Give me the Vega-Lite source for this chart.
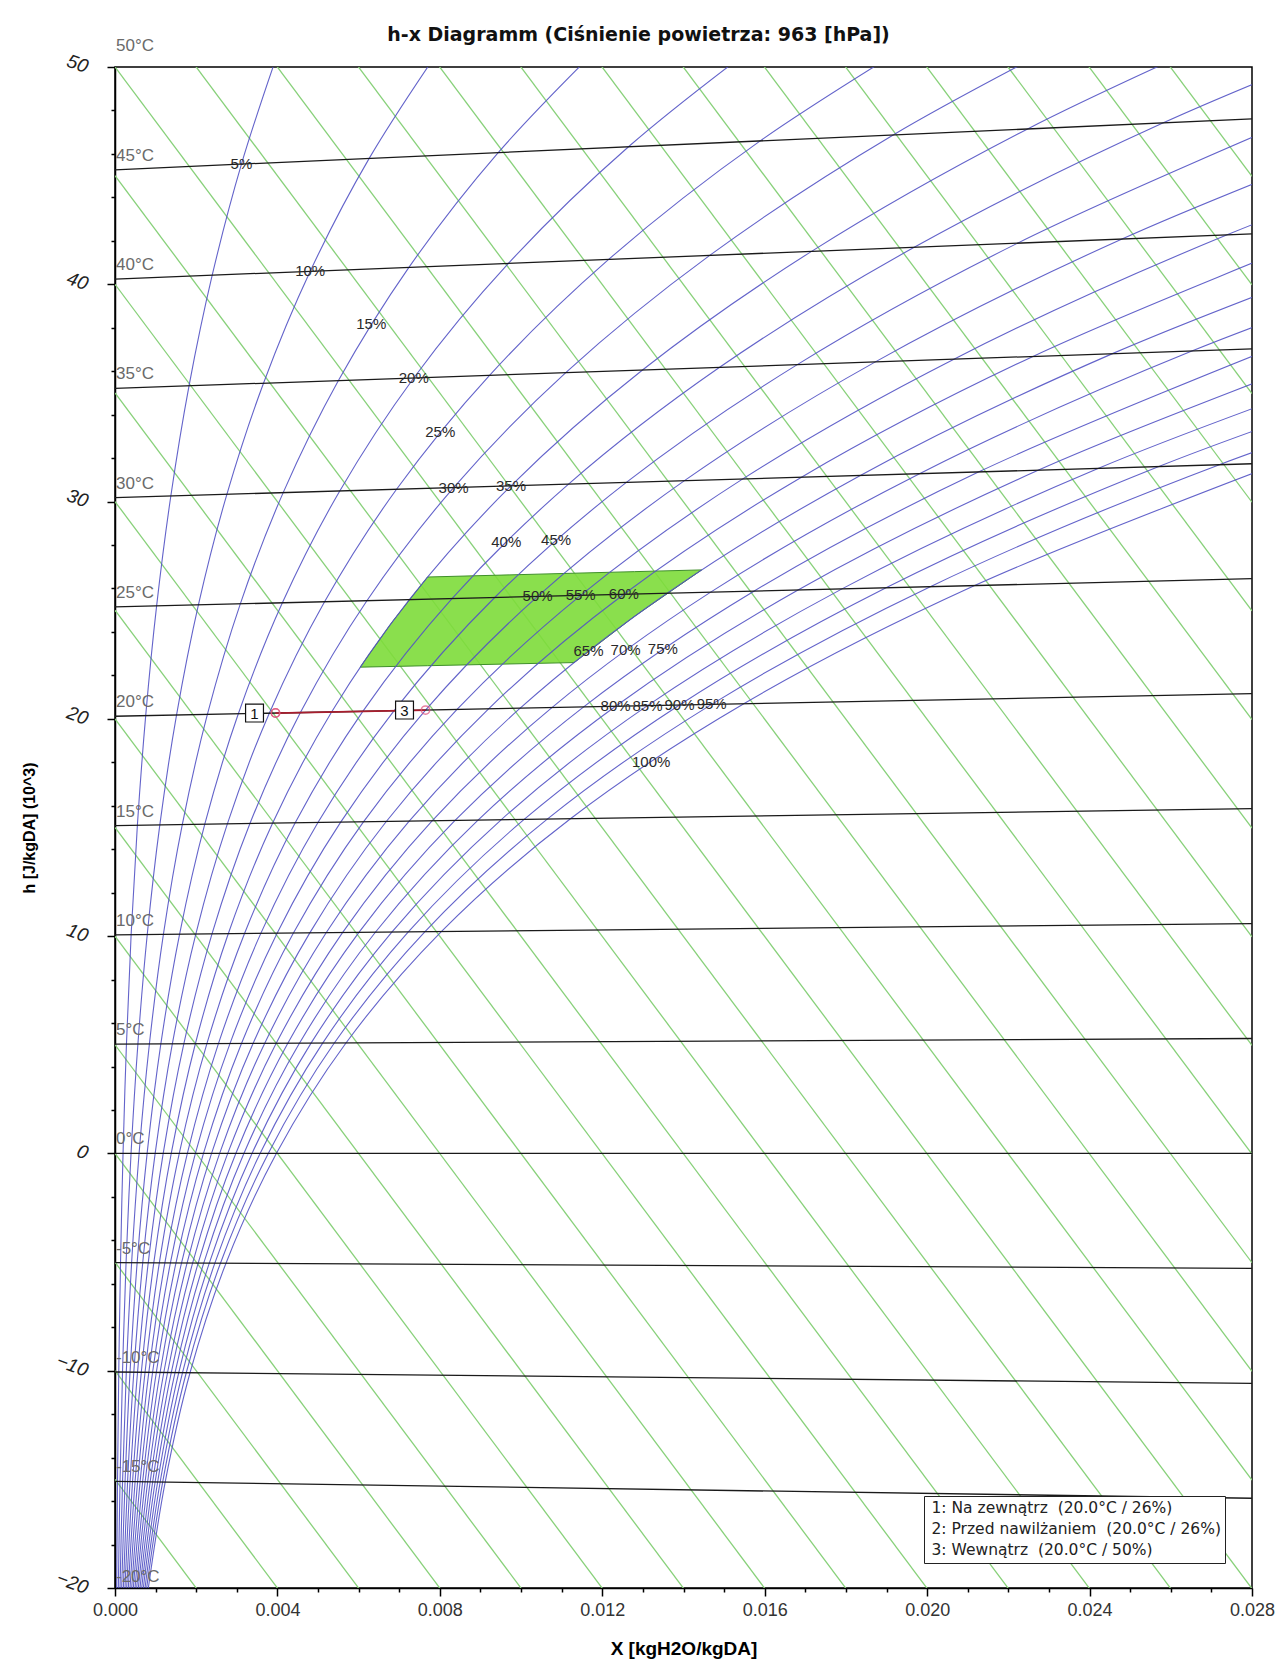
{
"$schema": "https://vega.github.io/schema/vega-lite/v6.json",
"width": 1137, "height": 1521,
"autosize": {"type": "none"},
"padding": {"left": 115, "top": 67, "right": 27, "bottom": 72},
"background": "white",
"config": {"view": {"stroke": "#000", "strokeWidth": 1.5}, "font": "Liberation Sans"},
"title": {"text": "h-x Diagramm (Ciśnienie powietrza: 963 [hPa])", "font": "DejaVu Sans", "fontSize": 19, "fontWeight": "bold", "color": "#111", "anchor": "middle", "dx": -45, "offset": 22, "dy": 30},
"datasets": {
"enth": [
{"h":-15,"x":0,"y":-15},{"h":-15,"x":0.028,"y":-85.03},
{"h":-10,"x":0,"y":-10},{"h":-10,"x":0.028,"y":-80.03},
{"h":-5,"x":0,"y":-5},{"h":-5,"x":0.028,"y":-75.03},
{"h":0,"x":0,"y":0},{"h":0,"x":0.028,"y":-70.03},
{"h":5,"x":0,"y":5},{"h":5,"x":0.028,"y":-65.03},
{"h":10,"x":0,"y":10},{"h":10,"x":0.028,"y":-60.03},
{"h":15,"x":0,"y":15},{"h":15,"x":0.028,"y":-55.03},
{"h":20,"x":0,"y":20},{"h":20,"x":0.028,"y":-50.03},
{"h":25,"x":0,"y":25},{"h":25,"x":0.028,"y":-45.03},
{"h":30,"x":0,"y":30},{"h":30,"x":0.028,"y":-40.03},
{"h":35,"x":0,"y":35},{"h":35,"x":0.028,"y":-35.03},
{"h":40,"x":0,"y":40},{"h":40,"x":0.028,"y":-30.03},
{"h":45,"x":0,"y":45},{"h":45,"x":0.028,"y":-25.03},
{"h":50,"x":0,"y":50},{"h":50,"x":0.028,"y":-20.03},
{"h":55,"x":0,"y":55},{"h":55,"x":0.028,"y":-15.03},
{"h":60,"x":0,"y":60},{"h":60,"x":0.028,"y":-10.03},
{"h":65,"x":0,"y":65},{"h":65,"x":0.028,"y":-5.03},
{"h":70,"x":0,"y":70},{"h":70,"x":0.028,"y":-0.03},
{"h":75,"x":0,"y":75},{"h":75,"x":0.028,"y":4.97},
{"h":80,"x":0,"y":80},{"h":80,"x":0.028,"y":9.97},
{"h":85,"x":0,"y":85},{"h":85,"x":0.028,"y":14.97},
{"h":90,"x":0,"y":90},{"h":90,"x":0.028,"y":19.97},
{"h":95,"x":0,"y":95},{"h":95,"x":0.028,"y":24.97},
{"h":100,"x":0,"y":100},{"h":100,"x":0.028,"y":29.97},
{"h":105,"x":0,"y":105},{"h":105,"x":0.028,"y":34.97},
{"h":110,"x":0,"y":110},{"h":110,"x":0.028,"y":39.97},
{"h":115,"x":0,"y":115},{"h":115,"x":0.028,"y":44.97}
],
"iso": [
{"t":-20,"x":0,"y":-20.12,"lab":"-20°C"},{"t":-20,"x":0.028,"y":-21.16},
{"t":-15,"x":0,"y":-15.09,"lab":"-15°C"},{"t":-15,"x":0.028,"y":-15.87},
{"t":-10,"x":0,"y":-10.06,"lab":"-10°C"},{"t":-10,"x":0.028,"y":-10.58},
{"t":-5,"x":0,"y":-5.03,"lab":"-5°C"},{"t":-5,"x":0.028,"y":-5.29},
{"t":0,"x":0,"y":0,"lab":"0°C"},{"t":0,"x":0.028,"y":0},
{"t":5,"x":0,"y":5.03,"lab":"5°C"},{"t":5,"x":0.028,"y":5.29},
{"t":10,"x":0,"y":10.06,"lab":"10°C"},{"t":10,"x":0.028,"y":10.58},
{"t":15,"x":0,"y":15.09,"lab":"15°C"},{"t":15,"x":0.028,"y":15.87},
{"t":20,"x":0,"y":20.12,"lab":"20°C"},{"t":20,"x":0.028,"y":21.16},
{"t":25,"x":0,"y":25.15,"lab":"25°C"},{"t":25,"x":0.028,"y":26.45},
{"t":30,"x":0,"y":30.18,"lab":"30°C"},{"t":30,"x":0.028,"y":31.74},
{"t":35,"x":0,"y":35.21,"lab":"35°C"},{"t":35,"x":0.028,"y":37.03},
{"t":40,"x":0,"y":40.24,"lab":"40°C"},{"t":40,"x":0.028,"y":42.32},
{"t":45,"x":0,"y":45.27,"lab":"45°C"},{"t":45,"x":0.028,"y":47.61},
{"t":50,"x":0,"y":50.3,"lab":"50°C"},{"t":50,"x":0.028,"y":52.9}
],
"zone": [
{"x":0.006037,"y":22.38,"y2":22.38},
{"x":0.006822,"y":22.411,"y2":24.449},
{"x":0.007697,"y":22.446,"y2":26.528},
{"x":0.011306,"y":22.59,"y2":26.703},
{"x":0.01279,"y":24.715,"y2":26.775},
{"x":0.014447,"y":26.855,"y2":26.855}
],
"rhlab": [
{"lab":"5%","x":0.003114,"y":45.531},
{"lab":"10%","x":0.004807,"y":40.598},
{"lab":"15%","x":0.00631,"y":38.17},
{"lab":"20%","x":0.007357,"y":35.689},
{"lab":"25%","x":0.00801,"y":33.18},
{"lab":"30%","x":0.008339,"y":30.645},
{"lab":"35%","x":0.009751,"y":30.724},
{"lab":"40%","x":0.009636,"y":28.16},
{"lab":"45%","x":0.010863,"y":28.22},
{"lab":"50%","x":0.010408,"y":25.634},
{"lab":"55%","x":0.011468,"y":25.683},
{"lab":"60%","x":0.012531,"y":25.733},
{"lab":"65%","x":0.01166,"y":23.12},
{"lab":"70%","x":0.012573,"y":23.16},
{"lab":"75%","x":0.013491,"y":23.2},
{"lab":"80%","x":0.012327,"y":20.579},
{"lab":"85%","x":0.013113,"y":20.608},
{"lab":"90%","x":0.013902,"y":20.637},
{"lab":"95%","x":0.014693,"y":20.667},
{"lab":"100%","x":0.013205,"y":18.035}
],
"pts": [
{"n":"2","x":0.003953,"y":20.267,"leg":"2: Przed nawilżaniem\u00a0 (20.0°C / 26%)"},
{"n":"1","x":0.003953,"y":20.267,"leg":"1: Na zewnątrz\u00a0 (20.0°C / 26%)"},
{"n":"3","x":0.007647,"y":20.404,"leg":"3: Wewnątrz\u00a0 (20.0°C / 50%)"}
],
"rh": [
{"p":5,"t":-20,"x":0.0000406,"y":-20.13},{"p":5,"t":-15,"x":0.0000619,"y":-15.1},{"p":5,"t":-10,"x":0.0000926,"y":-10.07},{"p":5,"t":-5,"x":0.000136,"y":-5.04},{"p":5,"t":0,"x":0.000198,"y":0},{"p":5,"t":5,"x":0.000282,"y":5.033},{"p":5,"t":10,"x":0.000397,"y":10.067},{"p":5,"t":15,"x":0.000551,"y":15.105},{"p":5,"t":20,"x":0.000756,"y":20.148},{"p":5,"t":25,"x":0.001025,"y":25.198},{"p":5,"t":30,"x":0.001375,"y":30.257},{"p":5,"t":35,"x":0.001823,"y":35.329},{"p":5,"t":40,"x":0.002394,"y":40.418},{"p":5,"t":45,"x":0.003114,"y":45.531},{"p":5,"t":50,"x":0.004015,"y":50.673},
{"p":10,"t":-20,"x":0.000081,"y":-20.13},{"p":10,"t":-15,"x":0.000124,"y":-15.1},{"p":10,"t":-10,"x":0.000185,"y":-10.07},{"p":10,"t":-5,"x":0.000272,"y":-5.04},{"p":10,"t":0,"x":0.000395,"y":0},{"p":10,"t":5,"x":0.000564,"y":5.035},{"p":10,"t":10,"x":0.000794,"y":10.075},{"p":10,"t":15,"x":0.001104,"y":15.121},{"p":10,"t":20,"x":0.001515,"y":20.176},{"p":10,"t":25,"x":0.002054,"y":25.246},{"p":10,"t":30,"x":0.002755,"y":30.334},{"p":10,"t":35,"x":0.003657,"y":35.448},{"p":10,"t":40,"x":0.004807,"y":40.598},{"p":10,"t":45,"x":0.00626,"y":45.794},{"p":10,"t":50,"x":0.008082,"y":51.052},
{"p":15,"t":-20,"x":0.000122,"y":-20.13},{"p":15,"t":-15,"x":0.000186,"y":-15.1},{"p":15,"t":-10,"x":0.000278,"y":-10.07},{"p":15,"t":-5,"x":0.000409,"y":-5.04},{"p":15,"t":0,"x":0.000593,"y":0},{"p":15,"t":5,"x":0.000847,"y":5.038},{"p":15,"t":10,"x":0.001192,"y":10.082},{"p":15,"t":15,"x":0.001657,"y":15.136},{"p":15,"t":20,"x":0.002275,"y":20.205},{"p":15,"t":25,"x":0.003086,"y":25.294},{"p":15,"t":30,"x":0.004142,"y":30.411},{"p":15,"t":35,"x":0.005502,"y":35.568},{"p":15,"t":40,"x":0.007238,"y":40.778},{"p":15,"t":45,"x":0.009437,"y":46.06},{"p":15,"t":50,"x":0.012202,"y":51.435},
{"p":20,"t":-20,"x":0.000162,"y":-20.13},{"p":20,"t":-15,"x":0.000248,"y":-15.1},{"p":20,"t":-10,"x":0.00037,"y":-10.07},{"p":20,"t":-5,"x":0.000545,"y":-5.04},{"p":20,"t":0,"x":0.000791,"y":0},{"p":20,"t":5,"x":0.001129,"y":5.041},{"p":20,"t":10,"x":0.001591,"y":10.09},{"p":20,"t":15,"x":0.002211,"y":15.152},{"p":20,"t":20,"x":0.003037,"y":20.233},{"p":20,"t":25,"x":0.004122,"y":25.342},{"p":20,"t":30,"x":0.005535,"y":30.489},{"p":20,"t":35,"x":0.007357,"y":35.689},{"p":20,"t":40,"x":0.009688,"y":40.961},{"p":20,"t":45,"x":0.012646,"y":46.328},{"p":20,"t":50,"x":0.016376,"y":51.823},
{"p":25,"t":-20,"x":0.000203,"y":-20.13},{"p":25,"t":-15,"x":0.00031,"y":-15.1},{"p":25,"t":-10,"x":0.000463,"y":-10.07},{"p":25,"t":-5,"x":0.000682,"y":-5.04},{"p":25,"t":0,"x":0.000989,"y":0},{"p":25,"t":5,"x":0.001412,"y":5.043},{"p":25,"t":10,"x":0.00199,"y":10.097},{"p":25,"t":15,"x":0.002767,"y":15.167},{"p":25,"t":20,"x":0.0038,"y":20.261},{"p":25,"t":25,"x":0.005161,"y":25.39},{"p":25,"t":30,"x":0.006934,"y":30.567},{"p":25,"t":35,"x":0.009224,"y":35.81},{"p":25,"t":40,"x":0.012157,"y":41.144},{"p":25,"t":45,"x":0.015889,"y":46.6},{"p":25,"t":50,"x":0.020606,"y":52.216},
{"p":30,"t":-20,"x":0.000243,"y":-20.13},{"p":30,"t":-15,"x":0.000371,"y":-15.1},{"p":30,"t":-10,"x":0.000555,"y":-10.07},{"p":30,"t":-5,"x":0.000818,"y":-5.04},{"p":30,"t":0,"x":0.001187,"y":0},{"p":30,"t":5,"x":0.001695,"y":5.046},{"p":30,"t":10,"x":0.002389,"y":10.104},{"p":30,"t":15,"x":0.003323,"y":15.183},{"p":30,"t":20,"x":0.004566,"y":20.29},{"p":30,"t":25,"x":0.006203,"y":25.438},{"p":30,"t":30,"x":0.008339,"y":30.645},{"p":30,"t":35,"x":0.011101,"y":35.933},{"p":30,"t":40,"x":0.014646,"y":41.33},{"p":30,"t":45,"x":0.019164,"y":46.874},{"p":30,"t":50,"x":0.024892,"y":52.615},
{"p":35,"t":-20,"x":0.000284,"y":-20.13},{"p":35,"t":-15,"x":0.000433,"y":-15.1},{"p":35,"t":-10,"x":0.000648,"y":-10.07},{"p":35,"t":-5,"x":0.000955,"y":-5.04},{"p":35,"t":0,"x":0.001385,"y":0},{"p":35,"t":5,"x":0.001979,"y":5.048},{"p":35,"t":10,"x":0.002789,"y":10.112},{"p":35,"t":15,"x":0.00388,"y":15.198},{"p":35,"t":20,"x":0.005334,"y":20.318},{"p":35,"t":25,"x":0.007249,"y":25.487},{"p":35,"t":30,"x":0.009751,"y":30.724},{"p":35,"t":35,"x":0.01299,"y":36.056},{"p":35,"t":40,"x":0.017154,"y":41.516},{"p":35,"t":45,"x":0.022474,"y":47.151},{"p":35,"t":50,"x":0.029236,"y":53.019},
{"p":40,"t":-20,"x":0.000324,"y":-20.13},{"p":40,"t":-15,"x":0.000495,"y":-15.1},{"p":40,"t":-10,"x":0.00074,"y":-10.07},{"p":40,"t":-5,"x":0.001092,"y":-5.04},{"p":40,"t":0,"x":0.001583,"y":0},{"p":40,"t":5,"x":0.002263,"y":5.051},{"p":40,"t":10,"x":0.00319,"y":10.119},{"p":40,"t":15,"x":0.004438,"y":15.214},{"p":40,"t":20,"x":0.006103,"y":20.347},{"p":40,"t":25,"x":0.008299,"y":25.536},{"p":40,"t":30,"x":0.011169,"y":30.803},{"p":40,"t":35,"x":0.01489,"y":36.179},{"p":40,"t":40,"x":0.019682,"y":41.704},{"p":40,"t":45,"x":0.025817,"y":47.431},{"p":40,"t":50,"x":0.033638,"y":53.428},
{"p":45,"t":-20,"x":0.000365,"y":-20.13},{"p":45,"t":-15,"x":0.000557,"y":-15.1},{"p":45,"t":-10,"x":0.000833,"y":-10.07},{"p":45,"t":-5,"x":0.001228,"y":-5.04},{"p":45,"t":0,"x":0.001782,"y":0},{"p":45,"t":5,"x":0.002547,"y":5.054},{"p":45,"t":10,"x":0.003591,"y":10.127},{"p":45,"t":15,"x":0.004998,"y":15.229},{"p":45,"t":20,"x":0.006874,"y":20.376},{"p":45,"t":25,"x":0.009351,"y":25.585},{"p":45,"t":30,"x":0.012593,"y":30.883},{"p":45,"t":35,"x":0.016802,"y":36.304},{"p":45,"t":40,"x":0.02223,"y":41.894},{"p":45,"t":45,"x":0.029196,"y":47.714},
{"p":50,"t":-20,"x":0.000406,"y":-20.13},{"p":50,"t":-15,"x":0.000619,"y":-15.1},{"p":50,"t":-10,"x":0.000926,"y":-10.07},{"p":50,"t":-5,"x":0.001365,"y":-5.04},{"p":50,"t":0,"x":0.00198,"y":0},{"p":50,"t":5,"x":0.002831,"y":5.056},{"p":50,"t":10,"x":0.003992,"y":10.134},{"p":50,"t":15,"x":0.005558,"y":15.245},{"p":50,"t":20,"x":0.007647,"y":20.404},{"p":50,"t":25,"x":0.010408,"y":25.634},{"p":50,"t":30,"x":0.014024,"y":30.963},{"p":50,"t":35,"x":0.018725,"y":36.429},{"p":50,"t":40,"x":0.024799,"y":42.085},{"p":50,"t":45,"x":0.03261,"y":48.0},
{"p":55,"t":-20,"x":0.000446,"y":-20.13},{"p":55,"t":-15,"x":0.000681,"y":-15.1},{"p":55,"t":-10,"x":0.001018,"y":-10.07},{"p":55,"t":-5,"x":0.001502,"y":-5.04},{"p":55,"t":0,"x":0.002179,"y":0},{"p":55,"t":5,"x":0.003115,"y":5.059},{"p":55,"t":10,"x":0.004394,"y":10.142},{"p":55,"t":15,"x":0.006119,"y":15.261},{"p":55,"t":20,"x":0.008423,"y":20.433},{"p":55,"t":25,"x":0.011468,"y":25.683},{"p":55,"t":30,"x":0.015461,"y":31.043},{"p":55,"t":35,"x":0.020659,"y":36.555},{"p":55,"t":40,"x":0.027388,"y":42.278},{"p":55,"t":45,"x":0.03606,"y":48.288},
{"p":60,"t":-20,"x":0.000487,"y":-20.13},{"p":60,"t":-15,"x":0.000743,"y":-15.1},{"p":60,"t":-10,"x":0.001111,"y":-10.07},{"p":60,"t":-5,"x":0.001639,"y":-5.04},{"p":60,"t":0,"x":0.002378,"y":0},{"p":60,"t":5,"x":0.0034,"y":5.062},{"p":60,"t":10,"x":0.004797,"y":10.149},{"p":60,"t":15,"x":0.006681,"y":15.276},{"p":60,"t":20,"x":0.0092,"y":20.462},{"p":60,"t":25,"x":0.012531,"y":25.733},{"p":60,"t":30,"x":0.016905,"y":31.123},{"p":60,"t":35,"x":0.022606,"y":36.682},{"p":60,"t":40,"x":0.029998,"y":42.472},
{"p":65,"t":-20,"x":0.000527,"y":-20.13},{"p":65,"t":-15,"x":0.000805,"y":-15.1},{"p":65,"t":-10,"x":0.001203,"y":-10.07},{"p":65,"t":-5,"x":0.001776,"y":-5.04},{"p":65,"t":0,"x":0.002577,"y":0},{"p":65,"t":5,"x":0.003685,"y":5.064},{"p":65,"t":10,"x":0.0052,"y":10.157},{"p":65,"t":15,"x":0.007245,"y":15.292},{"p":65,"t":20,"x":0.009978,"y":20.491},{"p":65,"t":25,"x":0.013598,"y":25.782},{"p":65,"t":30,"x":0.018355,"y":31.204},{"p":65,"t":35,"x":0.024564,"y":36.809},{"p":65,"t":40,"x":0.032629,"y":42.668},
{"p":70,"t":-20,"x":0.000568,"y":-20.13},{"p":70,"t":-15,"x":0.000867,"y":-15.1},{"p":70,"t":-10,"x":0.001296,"y":-10.07},{"p":70,"t":-5,"x":0.001913,"y":-5.04},{"p":70,"t":0,"x":0.002776,"y":0},{"p":70,"t":5,"x":0.00397,"y":5.067},{"p":70,"t":10,"x":0.005603,"y":10.164},{"p":70,"t":15,"x":0.007809,"y":15.308},{"p":70,"t":20,"x":0.010759,"y":20.52},{"p":70,"t":25,"x":0.014669,"y":25.832},{"p":70,"t":30,"x":0.019812,"y":31.285},{"p":70,"t":35,"x":0.026534,"y":36.937},{"p":70,"t":40,"x":0.035281,"y":42.865},
{"p":75,"t":-20,"x":0.000608,"y":-20.13},{"p":75,"t":-15,"x":0.000929,"y":-15.1},{"p":75,"t":-10,"x":0.001388,"y":-10.07},{"p":75,"t":-5,"x":0.00205,"y":-5.04},{"p":75,"t":0,"x":0.002975,"y":0},{"p":75,"t":5,"x":0.004256,"y":5.07},{"p":75,"t":10,"x":0.006007,"y":10.172},{"p":75,"t":15,"x":0.008374,"y":15.324},{"p":75,"t":20,"x":0.011542,"y":20.549},{"p":75,"t":25,"x":0.015743,"y":25.882},{"p":75,"t":30,"x":0.021275,"y":31.367},{"p":75,"t":35,"x":0.028516,"y":37.066},
{"p":80,"t":-20,"x":0.000649,"y":-20.13},{"p":80,"t":-15,"x":0.00099,"y":-15.1},{"p":80,"t":-10,"x":0.001481,"y":-10.07},{"p":80,"t":-5,"x":0.002187,"y":-5.04},{"p":80,"t":0,"x":0.003174,"y":0},{"p":80,"t":5,"x":0.004542,"y":5.072},{"p":80,"t":10,"x":0.006412,"y":10.179},{"p":80,"t":15,"x":0.00894,"y":15.339},{"p":80,"t":20,"x":0.012327,"y":20.579},{"p":80,"t":25,"x":0.016821,"y":25.932},{"p":80,"t":30,"x":0.022746,"y":31.449},{"p":80,"t":35,"x":0.030511,"y":37.196},
{"p":85,"t":-20,"x":0.000689,"y":-20.13},{"p":85,"t":-15,"x":0.001052,"y":-15.1},{"p":85,"t":-10,"x":0.001573,"y":-10.07},{"p":85,"t":-5,"x":0.002324,"y":-5.04},{"p":85,"t":0,"x":0.003374,"y":0},{"p":85,"t":5,"x":0.004828,"y":5.075},{"p":85,"t":10,"x":0.006817,"y":10.187},{"p":85,"t":15,"x":0.009508,"y":15.355},{"p":85,"t":20,"x":0.013113,"y":20.608},{"p":85,"t":25,"x":0.017903,"y":25.982},{"p":85,"t":30,"x":0.024223,"y":31.532},{"p":85,"t":35,"x":0.032517,"y":37.327},
{"p":90,"t":-20,"x":0.00073,"y":-20.13},{"p":90,"t":-15,"x":0.001114,"y":-15.1},{"p":90,"t":-10,"x":0.001666,"y":-10.07},{"p":90,"t":-5,"x":0.002461,"y":-5.04},{"p":90,"t":0,"x":0.003573,"y":0},{"p":90,"t":5,"x":0.005114,"y":5.078},{"p":90,"t":10,"x":0.007223,"y":10.194},{"p":90,"t":15,"x":0.010076,"y":15.371},{"p":90,"t":20,"x":0.013902,"y":20.637},{"p":90,"t":25,"x":0.018988,"y":26.033},{"p":90,"t":30,"x":0.025706,"y":31.614},{"p":90,"t":35,"x":0.034536,"y":37.458},
{"p":95,"t":-20,"x":0.00077,"y":-20.13},{"p":95,"t":-15,"x":0.001176,"y":-15.1},{"p":95,"t":-10,"x":0.001758,"y":-10.07},{"p":95,"t":-5,"x":0.002599,"y":-5.04},{"p":95,"t":0,"x":0.003774,"y":0},{"p":95,"t":5,"x":0.005401,"y":5.08},{"p":95,"t":10,"x":0.007629,"y":10.202},{"p":95,"t":15,"x":0.010645,"y":15.387},{"p":95,"t":20,"x":0.014693,"y":20.667},{"p":95,"t":25,"x":0.020077,"y":26.084},{"p":95,"t":30,"x":0.027197,"y":31.698},{"p":95,"t":35,"x":0.036568,"y":37.591},
{"p":100,"t":-20,"x":0.000811,"y":-20.13},{"p":100,"t":-15,"x":0.001238,"y":-15.1},{"p":100,"t":-10,"x":0.001851,"y":-10.07},{"p":100,"t":-5,"x":0.002736,"y":-5.04},{"p":100,"t":0,"x":0.003973,"y":0},{"p":100,"t":5,"x":0.005688,"y":5.083},{"p":100,"t":10,"x":0.008036,"y":10.209},{"p":100,"t":15,"x":0.011216,"y":15.403},{"p":100,"t":20,"x":0.015485,"y":20.696},{"p":100,"t":25,"x":0.02117,"y":26.134},{"p":100,"t":30,"x":0.028694,"y":31.781}
]
},
"encoding": {
"x": {"field": "x", "type": "quantitative", "title": "X [kgH2O/kgDA]",
 "scale": {"domain": [0, 0.028], "nice": false, "zero": false},
 "axis": {"values": [0,0.001,0.002,0.003,0.004,0.005,0.006,0.007,0.008,0.009,0.01,0.011,0.012,0.013,0.014,0.015,0.016,0.017,0.018,0.019,0.02,0.021,0.022,0.023,0.024,0.025,0.026,0.027,0.028],
  "labelExpr": "round(datum.value*1000) % 4 === 0 ? format(datum.value, '.3f') : ''",
  "tickSize": {"condition": {"test": "round(datum.value*1000) % 4 === 0", "value": 8}, "value": 4},
  "grid": false, "labelFlush": false, "labelOverlap": false,
  "labelFont": "Liberation Sans", "labelFontSize": 18, "labelColor": "#333", "labelPadding": 5,
  "domainColor": "#000", "domainWidth": 1.5, "tickColor": "#000", "tickWidth": 1.5,
  "titleFont": "Liberation Sans", "titleFontSize": 19, "titleFontWeight": "bold", "titleColor": "#000", "titlePadding": 20}},
"y": {"field": "y", "type": "quantitative", "title": "h [J/kgDA] (10^3)",
 "scale": {"domain": [-20, 50], "nice": false, "zero": false},
 "axis": {"values": [-20,-18,-16,-14,-12,-10,-8,-6,-4,-2,0,2,4,6,8,10,12,14,16,18,20,22,24,26,28,30,32,34,36,38,40,42,44,46,48,50],
  "labelExpr": "datum.value % 10 === 0 ? format(datum.value, 'd') : ''",
  "tickSize": {"condition": {"test": "datum.value % 10 === 0", "value": 8}, "value": 4},
  "grid": false, "labelFlush": false, "labelOverlap": false,
  "labelFont": "Liberation Sans", "labelFontSize": 19, "labelFontStyle": "italic", "labelAngle": 20, "labelColor": "#222", "labelPadding": 20,
  "domainColor": "#000", "domainWidth": 1.5, "tickColor": "#000", "tickWidth": 1.5,
  "titleFont": "Liberation Sans", "titleFontSize": 16, "titleFontWeight": "bold", "titleColor": "#000", "titlePadding": 16}}
},
"layer": [
{"data": {"name": "enth"}, "mark": {"type": "line", "clip": true, "color": "#88d17a", "strokeWidth": 1.3}, "encoding": {"detail": {"field": "h"}}},
{"data": {"name": "zone"}, "mark": {"type": "area", "clip": true, "fill": "#7ddc3a", "fillOpacity": 0.9, "stroke": "#3f8f2a", "strokeWidth": 1}, "encoding": {"y2": {"field": "y2"}}},
{"data": {"name": "rh"}, "mark": {"type": "line", "clip": true, "color": "#5252c4", "strokeWidth": 1.1, "opacity": 0.9, "interpolate": "catmull-rom"}, "encoding": {"detail": {"field": "p"}, "order": {"field": "t"}}},
{"data": {"name": "iso"}, "mark": {"type": "line", "clip": true, "color": "#1a1a1a", "strokeWidth": 1.3}, "encoding": {"detail": {"field": "t"}}},
{"data": {"name": "iso"}, "transform": [{"filter": "datum.x === 0"}], "mark": {"type": "text", "align": "left", "baseline": "middle", "dx": 1, "dy": -14, "font": "Liberation Sans", "fontSize": 17, "color": "#6a6a6a"}, "encoding": {"text": {"field": "lab"}}},
{"data": {"name": "rhlab"}, "mark": {"type": "text", "align": "center", "baseline": "middle", "font": "Liberation Sans", "fontSize": 15, "color": "#2a2a2a"}, "encoding": {"text": {"field": "lab"}}},
{"data": {"name": "pts"}, "mark": {"type": "line", "color": "#a81e2e", "strokeWidth": 1.8}, "encoding": {"order": {"field": "n"}}},
{"data": {"name": "pts"}, "mark": {"type": "point", "shape": "circle", "size": 0, "opacity": 0},
 "encoding": {"color": {"field": "leg", "type": "nominal", "scale": {"range": ["#ffffff", "#ffffff", "#ffffff"]},
  "legend": {"title": null, "orient": "none", "legendX": 809, "legendY": 1429, "symbolOpacity": 0, "symbolSize": 0, "symbolStrokeWidth": 0, "labelOffset": -12,
   "labelFont": "DejaVu Sans", "labelFontSize": 15.5, "labelColor": "#222", "labelLimit": 500, "rowPadding": 4,
   "strokeColor": "#222", "fillColor": "white", "padding": 4}}}},
{"data": {"name": "pts"}, "mark": {"type": "point", "shape": "circle", "size": 70, "strokeWidth": 1.5, "filled": false, "color": "#e0507a"}},
{"data": {"name": "pts"}, "transform": [{"filter": "datum.n !== '2'"}], "mark": {"type": "point", "shape": "square", "size": 320, "filled": true, "fill": "white", "stroke": "#111", "strokeWidth": 1.2, "opacity": 1, "xOffset": -21}},
{"data": {"name": "pts"}, "transform": [{"filter": "datum.n !== '2'"}], "mark": {"type": "text", "align": "center", "baseline": "middle", "dx": -21, "dy": 1, "font": "Liberation Sans", "fontSize": 15, "color": "#111"}, "encoding": {"text": {"field": "n"}}}
]
}
